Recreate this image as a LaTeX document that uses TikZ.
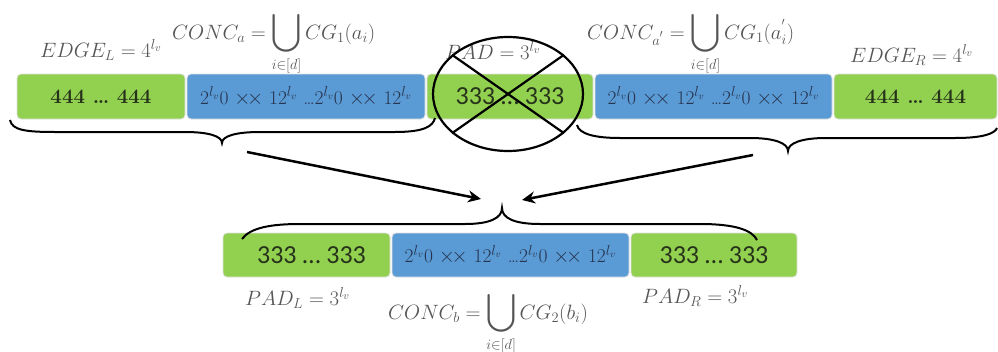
\documentclass[tikz,border=0pt]{standalone}
\usepackage{fontspec}
\usepackage{amsmath}
\usepackage{graphicx}
\newfontfamily\calib{Carlito}
\usetikzlibrary{shapes.geometric,arrows.meta}
\definecolor{boxgreen}{HTML}{92D050}
\definecolor{boxblue}{HTML}{5B9BD5}
\definecolor{labgray}{HTML}{555555}
\definecolor{bluetxt}{HTML}{26344F}
\definecolor{greentxt}{HTML}{26321A}
\newcommand\bluestr{2$^{l_v}$0 $\times\!\times$ 12$^{l_v}$ \ldots2$^{l_v}$0 $\times\!\times$ 12$^{l_v}$\hspace{10pt}}
\newcommand\bigU{\mathop{\vcenter{\hbox{\scalebox{1.3}{$\displaystyle\bigcup$}}}}\limits}
\tikzset{
  seg/.style={rectangle, rounded corners=4pt, draw=black!12, line width=0.8pt, inner sep=0pt},
  gseg/.style={seg, fill=boxgreen, text=greentxt},
  bseg/.style={seg, fill=boxblue, text=bluetxt, font=\fontsize{19.5}{22}\selectfont},
  fourtxt/.style={font=\bfseries\fontsize{20.5}{24}\selectfont},
  threetxt/.style={font=\calib\fontsize{26}{30}\selectfont},
  lab/.style={text=labgray, inner sep=0pt, anchor=base west, font=\fontsize{21}{25}\selectfont},
  brace/.style={line width=2pt, black},
  arr/.style={line width=2.5pt, -{Stealth[length=13pt,width=12pt]}},
  crossline/.style={line width=2.2pt, black}
}
\begin{document}
\begin{tikzpicture}[x=1pt,y=-1pt]
\useasboundingbox (0,0) rectangle (998,351);
% top row
\node[gseg, fourtxt, minimum width=168pt, minimum height=45pt] (g1) at (101,96.5) {444 \ldots{} 444};
\node[bseg, minimum width=238pt, minimum height=45pt] (b1) at (306,96.5) {\bluestr};
\node[gseg, threetxt, minimum width=166pt, minimum height=45pt] (g2) at (510,96.5) {333 … 333};
\node[bseg, minimum width=237pt, minimum height=45pt] (b2) at (713.5,96.5) {\bluestr};
\node[gseg, fourtxt, minimum width=163pt, minimum height=45pt] (g3) at (915.5,96.5) {444 \ldots{} 444\hspace{14pt}};
% bottom row
\node[gseg, threetxt, minimum width=167pt, minimum height=44pt] (g4) at (306.5,255) {\hspace{10pt}333 … 333};
\node[bseg, minimum width=237pt, minimum height=44pt] (b3) at (510.5,255) {\bluestr};
\node[gseg, threetxt, minimum width=166pt, minimum height=44pt] (g5) at (714,255) {333 … 333\hspace{12pt}};
% labels
\node[lab] (edgel) at (40,57) {$EDGE_L = 4^{l_v}$};
\node[lab] (conca) at (172,39) {$\displaystyle CONC_a = \bigU_{i\in[d]} CG_1(a_i)$};
\node[lab] (pad) at (445,59) {$PAD = 3^{l_v}$};
\node[lab] (concap) at (587,39) {$\displaystyle CONC_{a^{'}} = \bigU_{i\in[d]} CG_1(a_i^{'})$};
\node[lab] (edger) at (850,62) {$EDGE_R = 4^{l_v}$};
\node[lab] (padl) at (245,305) {$PAD_L = 3^{l_v}$};
\node[lab] (concb) at (388,319) {$\displaystyle CONC_b = \bigU_{i\in[d]} CG_2(b_i)$};
\node[lab] (padr) at (642,303) {$PAD_R = 3^{l_v}$};
% crossed ellipse
\node[draw, ellipse, line width=2.2pt, minimum width=150pt, minimum height=114pt, inner sep=0pt] (X) at (508,94) {};
\draw[crossline] (X.145) -- (X.-35);
\draw[crossline] (X.35) -- (X.-145);
% braces
\coordinate (lbA) at (10,120); \coordinate (lbT) at (222,143); \coordinate (lbB) at (435,118);
\draw[brace] (lbA) .. controls (12,130) and (25,132) .. (55,132) -- (185,132)
  .. controls (208,132) and (222,136) .. (lbT) .. controls (222,136) and (236,132) .. (260,132)
  -- (395,132) .. controls (425,132) and (433,126) .. (lbB);
\coordinate (rbA) at (577,125); \coordinate (rbT) at (788,151); \coordinate (rbB) at (997,128);
\draw[brace] (rbA) .. controls (579,134) and (595,138) .. (620,138) -- (750,138)
  .. controls (774,138) and (788,143) .. (rbT) .. controls (788,143) and (802,138) .. (826,138)
  -- (955,138) .. controls (985,138) and (995,133) .. (rbB);
\coordinate (bbA) at (242,239); \coordinate (bbT) at (502,208); \coordinate (bbB) at (757,240);
\draw[brace] (bbA) .. controls (250,228) and (270,224) .. (300,224) -- (465,224)
  .. controls (490,224) and (502,218) .. (bbT) .. controls (502,218) and (514,224) .. (540,224)
  -- (700,224) .. controls (735,224) and (752,230) .. (bbB);
% arrows
\coordinate (aL1) at (247,152); \coordinate (aL2) at (481,199);
\coordinate (aR1) at (753,155); \coordinate (aR2) at (522,200);
\draw[arr] (aL1) -- (aL2);
\draw[arr] (aR1) -- (aR2);
\end{tikzpicture}
\end{document}
